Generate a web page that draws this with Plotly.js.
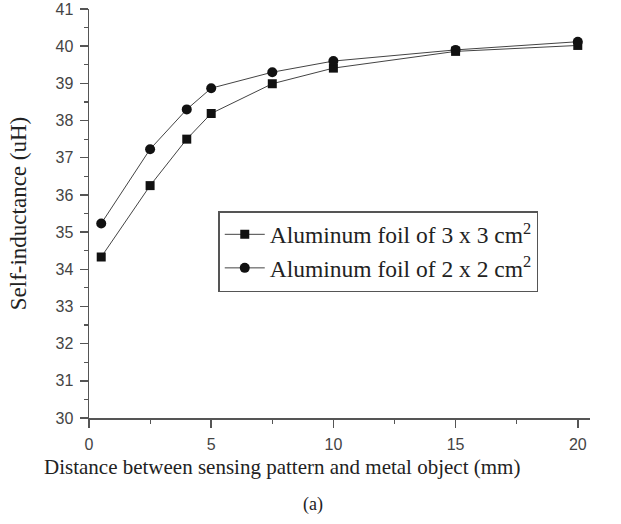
<!DOCTYPE html>
<html>
<head>
<meta charset="utf-8">
<script src="https://cdn.plot.ly/plotly-3.0.1.min.js"></script>
<style>html,body{margin:0;padding:0;background:#fff;}#chart{width:621px;height:524px;}</style>
</head>
<body>
<div id="chart"></div>
<script>
const distance = [0.5, 2.5, 4, 5, 7.5, 10, 15, 20];
const foil3x3 = [34.33, 36.25, 37.5, 38.19, 38.99, 39.41, 39.86, 40.02];
const foil2x2 = [35.23, 37.23, 38.3, 38.87, 39.3, 39.6, 39.9, 40.12];
const seriesNames = ['Aluminum foil of 3 x 3 cm<sup>2</sup>', 'Aluminum foil of 2 x 2 cm<sup>2</sup>'];
const xTicks = [0, 5, 10, 15, 20];
const xTitle = 'Distance between sensing pattern and metal object (mm)';
const yTitle = 'Self-inductance (uH)';
const caption = '(a)';

const serif = 'Liberation Serif, Times New Roman, serif';
const lineStyle = {color: '#444', width: 1};
const traces = [
  {x: distance, y: foil3x3, name: seriesNames[0], mode: 'lines+markers', type: 'scatter',
   line: lineStyle, marker: {symbol: 'square', size: 9, color: '#111'}},
  {x: distance, y: foil2x2, name: seriesNames[1], mode: 'lines+markers', type: 'scatter',
   line: lineStyle, marker: {symbol: 'circle', size: 10, color: '#111'}}
];

const axisCommon = {
  showline: true, linecolor: '#555', linewidth: 1.5, mirror: false,
  ticks: 'outside', ticklen: 8, tickwidth: 1.5, tickcolor: '#555',
  ticklabelstandoff: 3,
  showgrid: false, zeroline: false,
  tickfont: {family: 'Liberation Sans, Arial, sans-serif', size: 16, color: '#444'},
  minor: {ticks: 'outside', ticklen: 4, tickwidth: 1.2, tickcolor: '#555', showgrid: false}
};

const layout = {
  width: 621, height: 524,
  margin: {l: 89, r: 31, t: 9, b: 106},
  paper_bgcolor: '#fff', plot_bgcolor: '#fff',
  showlegend: true,
  legend: {x: 0.258, y: 0.506, xanchor: 'left', yanchor: 'top',
    bordercolor: '#555', borderwidth: 1.5, bgcolor: '#fff',
    font: {family: serif, size: 23.5, color: '#222'},
    tracegroupgap: 0, itemwidth: 40},
  xaxis: Object.assign({}, axisCommon, {
    range: [0, 20.5], tickvals: xTicks,
    minor: Object.assign({}, axisCommon.minor, {dtick: 2.5, tick0: 0})
  }),
  yaxis: Object.assign({}, axisCommon, {
    range: [30, 41], dtick: 1,
    minor: Object.assign({}, axisCommon.minor, {dtick: 0.5, tick0: 30}),
    title: {text: yTitle, standoff: 22, font: {family: serif, size: 23, color: '#222'}}
  }),
  annotations: [
    {text: xTitle, xref: 'paper', yref: 'paper', x: 0.385, y: -0.12,
     xanchor: 'center', yanchor: 'middle', showarrow: false,
     font: {family: serif, size: 21, color: '#222'}},
    {text: caption, xref: 'paper', yref: 'paper', x: 0.447, y: -0.212,
     xanchor: 'center', yanchor: 'middle', showarrow: false,
     font: {family: serif, size: 18, color: '#222'}}
  ]
};

Plotly.newPlot('chart', traces, layout, {displayModeBar: false, staticPlot: true});
</script>
</body>
</html>
